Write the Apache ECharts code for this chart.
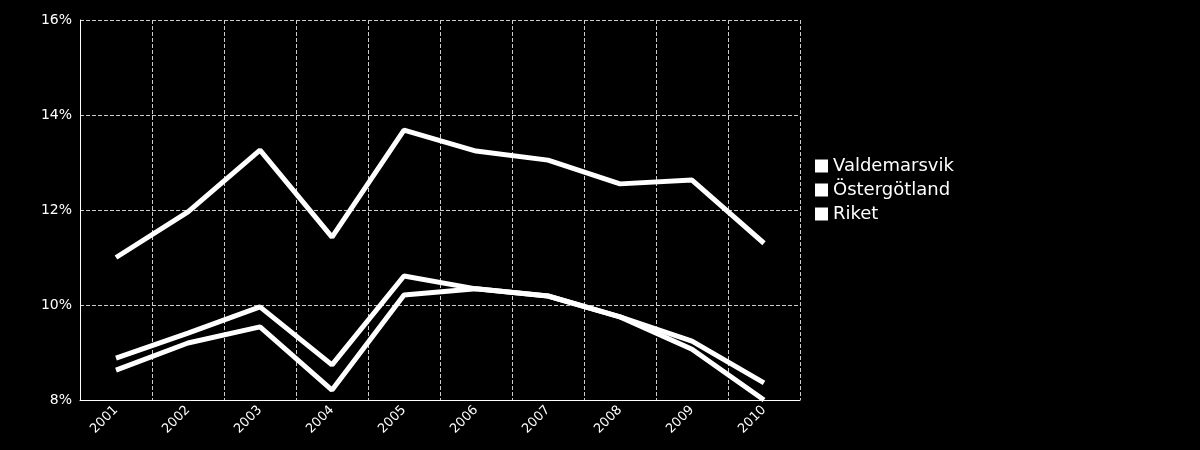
<!DOCTYPE html><html><head><meta charset="utf-8">
<script src="https://cdn.jsdelivr.net/npm/echarts@6/dist/echarts.min.js"></script>
<style>html,body{margin:0;background:#000}#c{width:1200px;height:450px}</style></head><body><div id="c"></div><script>
const years=['2001','2002','2003','2004','2005','2006','2007','2008','2009','2010'];
const valdemarsvik=[11.0,11.96,13.26,11.43,13.68,13.24,13.05,12.55,12.63,11.3];
const ostergotland=[8.88,9.41,9.96,8.74,10.61,10.34,10.19,9.75,9.24,8.36];
const riket=[8.63,9.2,9.54,8.21,10.21,10.34,10.19,9.75,9.07,8.0];
const names=['Valdemarsvik','Östergötland','Riket'];
const font='DejaVu Sans';
const mk=(n,d)=>({name:n,type:'line',data:d,symbol:'none',lineStyle:{color:'#fff',width:5},itemStyle:{color:'#fff'}});
echarts.init(document.getElementById('c')).setOption({
backgroundColor:'#000',animation:false,
grid:{left:80,right:400,top:20,bottom:50},
legend:{orient:'vertical',left:810,top:152,itemWidth:13,itemHeight:13,itemGap:6,icon:'rect',
 textStyle:{color:'#fff',fontSize:18,fontFamily:font},data:names},
xAxis:{type:'category',data:years,boundaryGap:true,
 axisLine:{lineStyle:{color:'#fff'}},axisTick:{show:false},
 axisLabel:{color:'#fff',rotate:45,fontSize:13,fontFamily:font,interval:0},
 splitLine:{show:true,interval:0,lineStyle:{color:'#ccc',type:'dashed'}}},
yAxis:{type:'value',min:8,max:16,interval:2,
 axisLine:{show:true,lineStyle:{color:'#fff'}},axisTick:{show:false},
 axisLabel:{color:'#fff',fontSize:14,fontFamily:font,formatter:v=>v+'%'},
 splitLine:{lineStyle:{color:'#ccc',type:'dashed'}}},
series:[mk(names[0],valdemarsvik),mk(names[1],ostergotland),mk(names[2],riket)]
});
</script></body></html>
